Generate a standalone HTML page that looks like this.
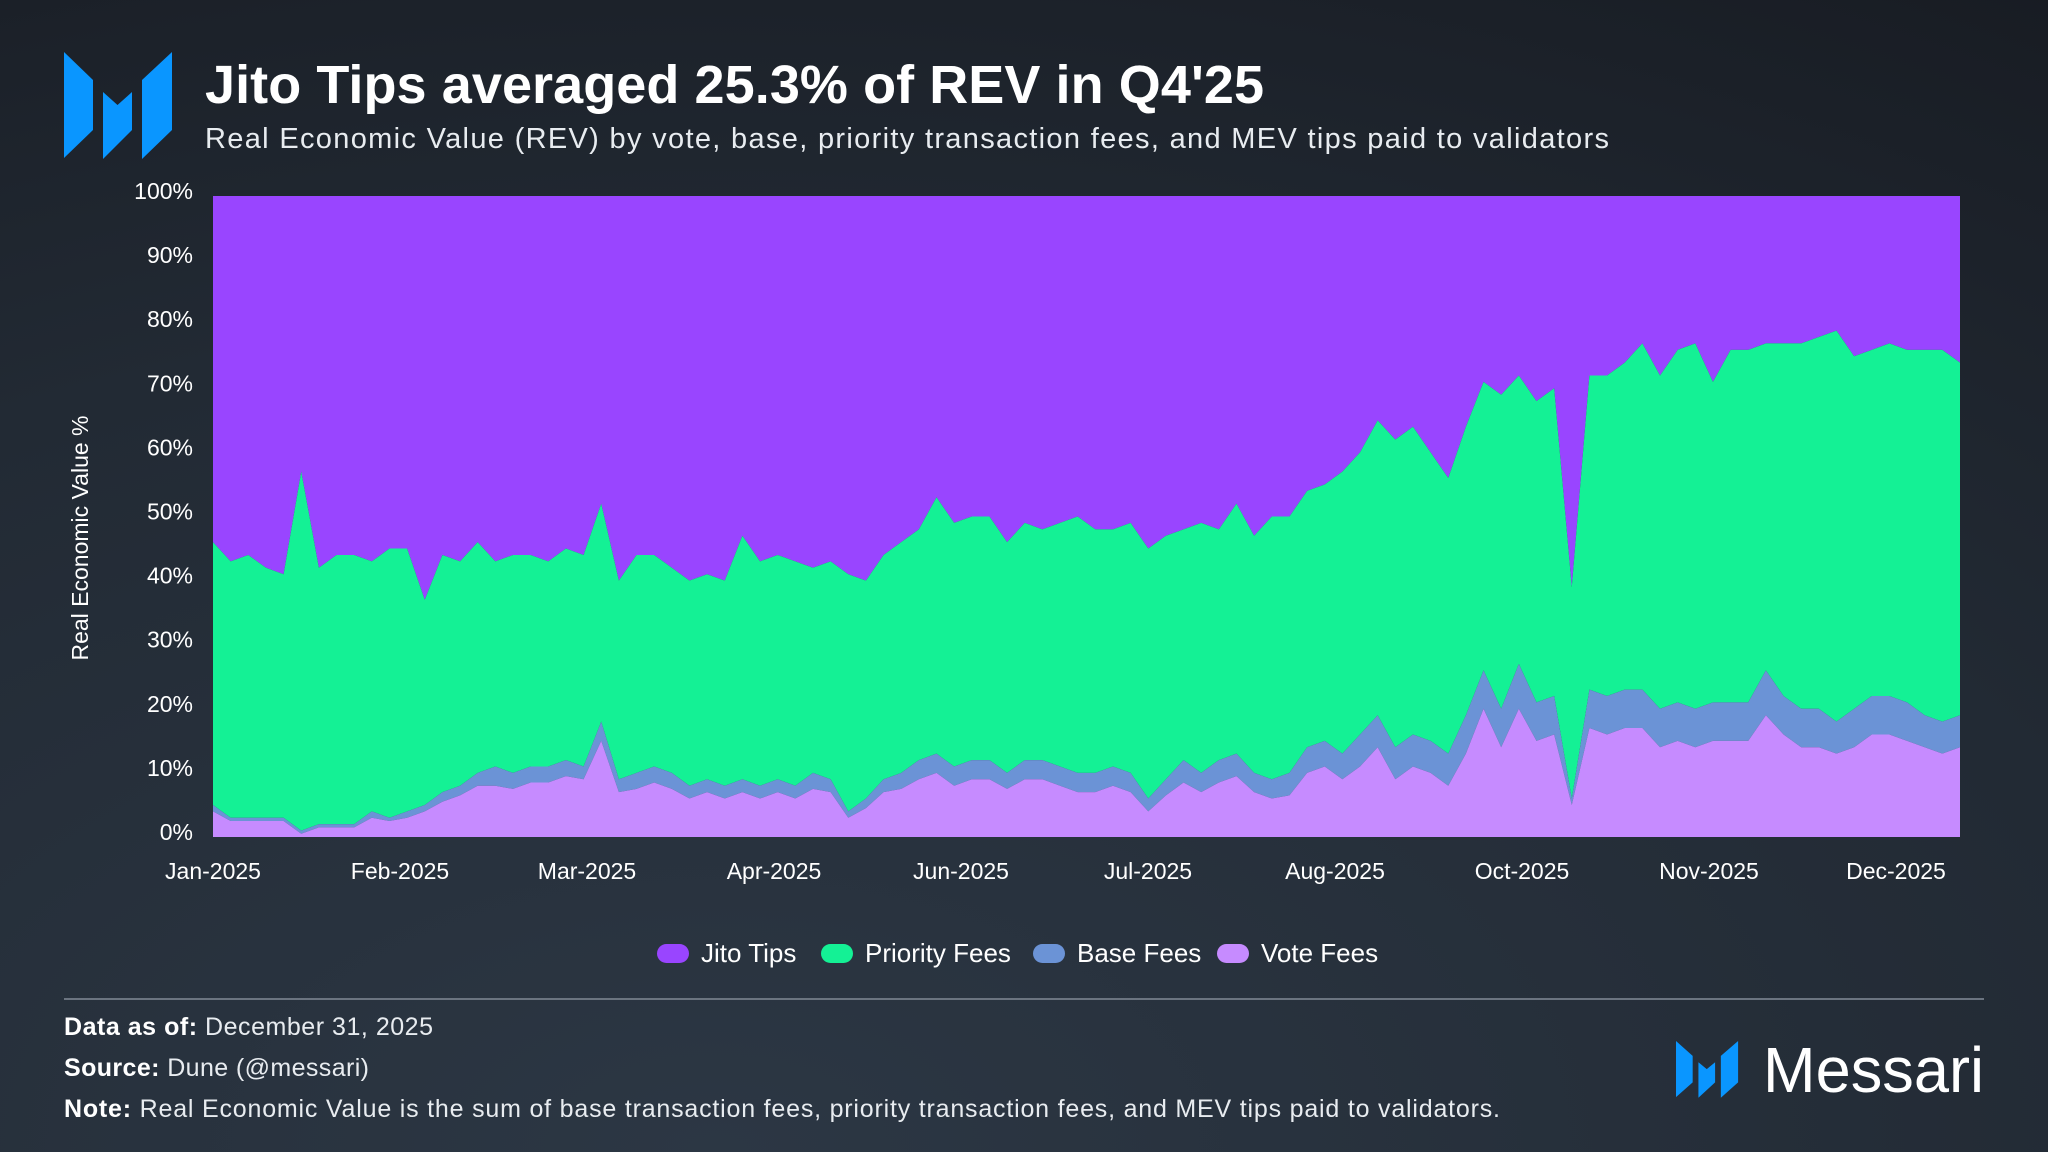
<!DOCTYPE html>
<html><head><meta charset="utf-8"><style>
html,body{margin:0;padding:0;width:2048px;height:1152px;overflow:hidden;background:#1d232c}
svg{display:block;font-family:"Liberation Sans",sans-serif}
</style></head><body>
<svg id="c" width="2048" height="1152" viewBox="0 0 2048 1152" xmlns="http://www.w3.org/2000/svg">
<defs>
<radialGradient id="bg" cx="0.35" cy="1.0" r="1.2">
<stop offset="0" stop-color="#2c3744"/><stop offset="0.6" stop-color="#222a34"/><stop offset="1" stop-color="#181c23"/>
</radialGradient>
<g id="mlogo">
<polygon points="64,52 93,80 93,130 64,158"/>
<polygon points="103,92 117.5,105 132,92 132,130 103,159"/>
<polygon points="142,80 172,52 172,130 142,159"/>
</g>
</defs>
<rect width="2048" height="1152" fill="url(#bg)"/>
<g fill="#0a96ff">
<use href="#mlogo"/>
</g>
<text x="205" y="103" font-size="54" font-weight="bold" fill="#ffffff" textLength="1059">Jito Tips averaged 25.3% of REV in Q4'25</text>
<text x="205" y="148" font-size="29" fill="#e8ecf0" textLength="1404">Real Economic Value (REV) by vote, base, priority transaction fees, and MEV tips paid to validators</text>
<g id="plot"></g>
<g id="yticks"></g>
<g id="xticks"></g>
<text transform="translate(88,538) rotate(-90)" text-anchor="middle" font-size="23" fill="#ffffff">Real Economic Value %</text>
<g id="legend"></g>
<line x1="64" y1="999" x2="1984" y2="999" stroke="#6b7480" stroke-width="2"/>
<text x="64" y="1035" font-size="25" fill="#e8ecf0" textLength="369"><tspan font-weight="bold" fill="#fff">Data as of:</tspan> December 31, 2025</text>
<text x="64" y="1076" font-size="25" fill="#e8ecf0" textLength="305"><tspan font-weight="bold" fill="#fff">Source:</tspan> Dune (@messari)</text>
<text x="64" y="1117" font-size="25" fill="#e8ecf0" textLength="1436"><tspan font-weight="bold" fill="#fff">Note:</tspan> Real Economic Value is the sum of base transaction fees, priority transaction fees, and MEV tips paid to validators.</text>
<g fill="#0a96ff" transform="translate(1676,1041) scale(0.575,0.53) translate(-64,-52)">
<use href="#mlogo"/>
</g>
<text x="1763" y="1092" font-size="64" fill="#ffffff" textLength="221" lengthAdjust="spacingAndGlyphs">Messari</text>
</svg>
<script>
const xLabels=["Jan-2025","Feb-2025","Mar-2025","Apr-2025","Jun-2025","Jul-2025","Aug-2025","Oct-2025","Nov-2025","Dec-2025"];
const yTicks=[0,10,20,30,40,50,60,70,80,90,100];
const priorityTop=[46,43,44,42,41,57,42,44,44,43,45,45,37,44,43,46,43,44,44,43,45,44,52,40,44,44,42,40,41,40,47,43,44,43,42,43,41,40,44,46,48,53,49,50,50,46,49,48,49,50,48,48,49,45,47,48,49,48,52,47,50,50,54,55,57,60,65,62,64,60,56,64,71,69,72,68,70,39,72,72,74,77,72,76,77,71,76,76,77,77,77,78,79,75,76,77,76,76,76,74];
const baseTop=[5,3,3,3,3,1,2,2,2,4,3,4,5,7,8,10,11,10,11,11,12,11,18,9,10,11,10,8,9,8,9,8,9,8,10,9,4,6,9,10,12,13,11,12,12,10,12,12,11,10,10,11,10,6,9,12,10,12,13,10,9,10,14,15,13,16,19,14,16,15,13,19,26,20,27,21,22,6,23,22,23,23,20,21,20,21,21,21,26,22,20,20,18,20,22,22,21,19,18,19];
const voteTop=[4,2.5,2.5,2.5,2.5,0.5,1.5,1.5,1.5,3,2.5,3,4,5.5,6.5,8,8,7.5,8.5,8.5,9.5,9,15,7,7.5,8.5,7.5,6,7,6,7,6,7,6,7.5,7,3,4.5,7,7.5,9,10,8,9,9,7.5,9,9,8,7,7,8,7,4,6.5,8.5,7,8.5,9.5,7,6,6.5,10,11,9,11,14,9,11,10,8,13,20,14,20,15,16,5,17,16,17,17,14,15,14,15,15,15,19,16,14,14,13,14,16,16,15,14,13,14];
const NS="http://www.w3.org/2000/svg";
const X0=213,X1=1960,YT=196,YB=837;
const n=priorityTop.length;
const xs=i=>X0+(X1-X0)*i/(n-1);
const ys=v=>YB-(YB-YT)*v/100;
function mk(t,a,p){const e=document.createElementNS(NS,t);for(const k in a)e.setAttribute(k,a[k]);p.appendChild(e);return e;}
function band(lo,hi,color,name){
  let d="M"+xs(0)+","+ys(hi[0]);
  for(let i=1;i<n;i++)d+="L"+xs(i)+","+ys(hi[i]);
  for(let i=n-1;i>=0;i--)d+="L"+xs(i)+","+ys(lo[i]);
  const p=mk("path",{d:d+"Z",fill:color},document.getElementById("plot"));
  
  
}
const zeros=priorityTop.map(()=>0), hund=priorityTop.map(()=>100);
band(priorityTop,hund,"#9945ff","area-jito-tips");
band(baseTop,priorityTop,"#14f195","area-priority-fees");
band(voteTop,baseTop,"#6b93d6","area-base-fees");
band(zeros,voteTop,"#c68bff","area-vote-fees");
const yg=document.getElementById("yticks");
yTicks.forEach(v=>{const t=mk("text",{x:193,y:ys(v)+3,"text-anchor":"end","font-size":23,fill:"#fff"},yg);t.textContent=v+"%";

});
const xg=document.getElementById("xticks");
xLabels.forEach((l,i)=>{const t=mk("text",{x:X0+i*(1896-X0)/(xLabels.length-1),y:879,"text-anchor":"middle","font-size":23,fill:"#fff"},xg);t.textContent=l;

});
const legendNames=["Jito Tips","Priority Fees","Base Fees","Vote Fees"];
const legendColors=["#9945ff","#14f195","#6b93d6","#c68bff"];
const legendX=[657,821,1033,1217];
const lg=document.getElementById("legend");
legendNames.forEach((nm,i)=>{
  const g=mk("g",{},lg);
  
  
  mk("rect",{x:legendX[i],y:944,width:32,height:19,rx:9.5,fill:legendColors[i]},g);
  const t=mk("text",{x:legendX[i]+44,y:962,"font-size":26,fill:"#fff"},g);t.textContent=nm;
});
</script>
</body></html>
